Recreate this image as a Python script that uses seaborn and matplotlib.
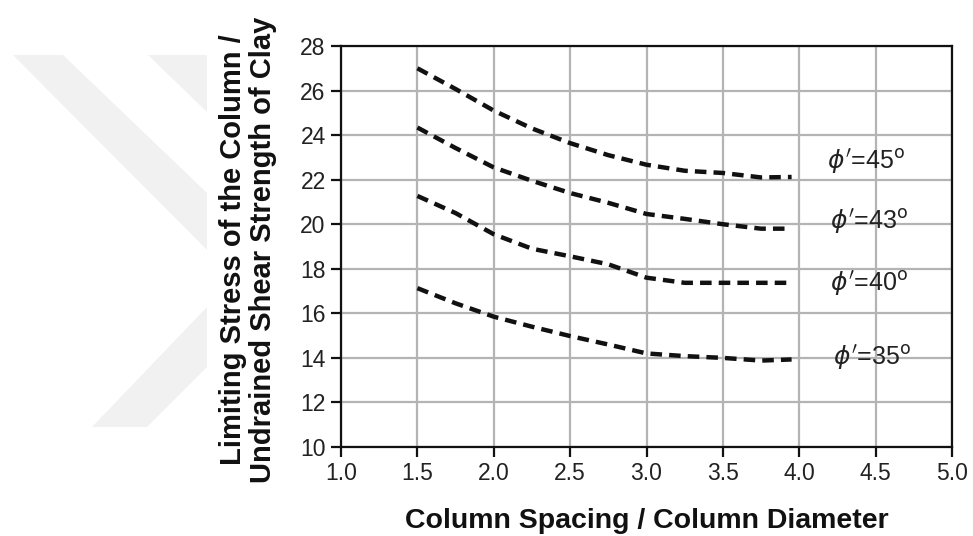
import numpy as np
import pandas as pd
import matplotlib
matplotlib.use("Agg")
import matplotlib.pyplot as plt
from matplotlib.patches import Polygon
import seaborn as sns

# values
spacing = [1.5, 1.75, 2.0, 2.25, 2.5, 2.75, 3.0, 3.25, 3.5, 3.75, 3.95]
phi45 = [27.0, 26.07, 25.1, 24.3, 23.64, 23.1, 22.67, 22.4, 22.3, 22.1, 22.12]
phi43 = [24.34, 23.42, 22.55, 21.95, 21.4, 20.96, 20.46, 20.24, 20.0, 19.8, 19.8]
phi40 = [21.27, 20.5, 19.55, 18.9, 18.56, 18.2, 17.6, 17.37, 17.37, 17.37, 17.37]
phi35 = [17.13, 16.45, 15.85, 15.4, 14.98, 14.6, 14.2, 14.08, 14.0, 13.88, 13.93]
curve_names = ["45", "43", "40", "35"]
label_pos = [(4.44, 22.8), (4.46, 20.1), (4.46, 17.35), (4.48, 14.0)]

sns.set_style("white")
plt.rcParams["font.family"] = ["Liberation Sans", "DejaVu Sans"]
plt.rcParams["mathtext.fontset"] = "dejavusans"

fig = plt.figure(figsize=(9.73, 5.36), dpi=100)
ax = fig.add_axes([341/973, 1-447/536, (952-341)/973, (447-46)/536])

# faint watermark chevron on the left
def px(pts):
    return [(x/973, 1-y/536) for x, y in pts]
wm = "#f1f1f1"
for pts in [
    [(13, 55), (63, 55), (207, 193), (207, 250)],
    [(148, 55), (207, 55), (207, 112)],
    [(92, 427), (147, 427), (207, 367), (207, 307)],
]:
    fig.patches.append(Polygon(px(pts), closed=True, transform=fig.transFigure,
                               facecolor=wm, edgecolor="none", zorder=0))

df = pd.DataFrame({
    "spacing": spacing * 4,
    "ratio": phi45 + phi43 + phi40 + phi35,
    "phi": sum([[n] * len(spacing) for n in curve_names], []),
})
for n in curve_names:
    sub = df[df["phi"] == n]
    sns.lineplot(data=sub, x="spacing", y="ratio", ax=ax, color="#111111",
                 linewidth=3.2, dashes=False, zorder=3)
for line in ax.get_lines():
    line.set_dashes((2.6, 1.6))

for n, (lx, ly) in zip(curve_names, label_pos):
    ax.text(lx, ly, r"$\phi'$=" + n + r"$^{\mathrm{o}}$", fontsize=18,
            ha="center", va="center", color="#222222", zorder=4)

ax.set_xlim(1.0, 5.0)
ax.set_ylim(10, 28)
ax.set_xticks(np.arange(1.0, 5.01, 0.5))
ax.set_xticklabels([f"{v:.1f}" for v in np.arange(1.0, 5.01, 0.5)])
ax.set_yticks(np.arange(10, 29, 2))
ax.grid(True, color="#b4b4b4", linewidth=1.6)
ax.set_axisbelow(True)
for s in ax.spines.values():
    s.set_color("#111111")
    s.set_linewidth(1.6)
ax.tick_params(axis="both", which="major", direction="out", length=7, width=1.6,
               color="#111111", labelsize=16.5, labelcolor="#222222", pad=4,
               bottom=True, left=True)
ax.set_xlabel("Column Spacing / Column Diameter", fontsize=20.5, fontweight="bold",
              color="#111111", labelpad=16)
ax.set_ylabel("Limiting Stress of the Column /\nUndrained Shear Strength of Clay",
              fontsize=21, fontweight="bold", color="#111111", linespacing=1.1)
ax.yaxis.set_label_coords(-0.105, 0.491)

fig.savefig("out.png", dpi=100)
